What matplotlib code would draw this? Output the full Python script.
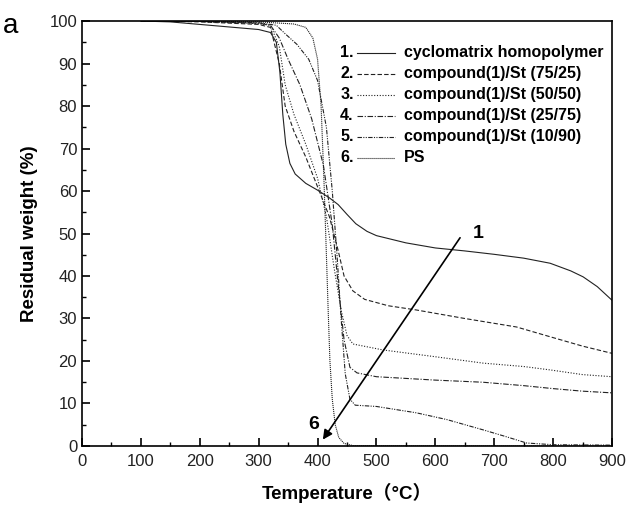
import matplotlib.pyplot as plt
from matplotlib.ticker import MultipleLocator
from matplotlib.lines import Line2D

plt.rcParams['font.family'] = ['Liberation Sans', 'Noto Sans CJK SC', 'DejaVu Sans']

# Temperature (C) / residual weight (%)
t1 = [100, 150, 200, 250, 300, 320, 330, 336, 341, 346, 353, 362, 380, 400, 420, 435,
      450, 465, 484, 500, 550, 600, 650, 700, 750, 795, 830, 851, 875, 900]
w1 = [100, 99.8, 99.2, 98.6, 98.0, 97.3, 95, 88, 78, 71, 66.5, 64, 61.8, 60.2, 58.4, 56.8,
      54.5, 52.3, 50.5, 49.5, 47.8, 46.6, 45.9, 45.1, 44.2, 43.0, 41.2, 39.8, 37.5, 34.3]

t2 = [100, 200, 300, 320, 335, 345, 360, 380, 400, 420, 435, 445, 460, 480, 520, 568,
      650, 738, 800, 850, 900]
w2 = [100, 99.8, 99.2, 98.5, 90, 80, 74, 68, 61, 54, 46, 40, 36.5, 34.5, 33, 32,
      30, 28, 25.5, 23.5, 21.8]

t3 = [100, 200, 300, 320, 335, 345, 360, 380, 400, 415, 428, 440, 450, 460, 511, 600,
      681, 750, 795, 850, 900]
w3 = [100, 99.9, 99.4, 99, 94, 85, 78, 71, 63, 54, 42, 32, 26, 24, 22.6, 21,
      19.5, 18.7, 17.9, 16.8, 16.3]

t4 = [100, 200, 300, 320, 335, 350, 370, 390, 410, 425, 435, 445, 455, 467, 500, 600,
      681, 750, 800, 850, 900]
w4 = [100, 99.9, 99.5, 99, 96, 91, 85, 77, 66, 52, 38, 25, 18.5, 17.2, 16.3, 15.5,
      15, 14.2, 13.5, 12.9, 12.5]

t5 = [100, 200, 300, 330, 345, 365, 385, 400, 415, 425, 433, 440, 447, 455, 464, 500,
      568, 620, 681, 720, 755, 800, 900]
w5 = [100, 99.9, 99.6, 99, 97, 94.5, 91, 86, 75, 60, 45, 30, 17, 11, 9.6, 9.3,
      7.8, 6.2, 3.8, 2.2, 0.7, 0.3, 0.2]

t6 = [100, 300, 360, 380, 392, 400, 406, 411, 415, 418, 421, 425, 430, 436, 445, 460, 900]
w6 = [100, 99.8, 99.3, 98.5, 96, 91, 80, 62, 45, 32, 20, 11, 5, 2, 0.6, 0.1, 0]

labels = ['cyclomatrix homopolymer', 'compound(1)/St (75/25)', 'compound(1)/St (50/50)',
          'compound(1)/St (25/75)', 'compound(1)/St (10/90)', 'PS']

styles = ['-', (0, (4, 2)), (0, (1, 1.5)), (0, (5, 1.5, 1, 1.5)),
          (0, (4, 1.2, 1, 1.2, 1, 1.2)), (0, (1, 0.8))]
series = [(t1, w1), (t2, w2), (t3, w3), (t4, w4), (t5, w5), (t6, w6)]

fig = plt.figure(figsize=(6.28, 5.09), dpi=100)
ax = fig.add_axes([0.1306, 0.1238, 0.8439, 0.8349])

for (t, w), ls in zip(series, styles):
    ax.plot(t, w, color='#222222', linestyle=ls, linewidth=0.8)

ax.set_xlim(0, 900)
ax.set_ylim(0, 100)
ax.xaxis.set_major_locator(MultipleLocator(100))
ax.xaxis.set_minor_locator(MultipleLocator(50))
ax.yaxis.set_major_locator(MultipleLocator(10))
ax.yaxis.set_minor_locator(MultipleLocator(5))
ax.tick_params(which='both', direction='in', top=False, right=False,
               labelsize=12, labelcolor='#222222')
ax.tick_params(axis='x', which='major', pad=6)
ax.tick_params(which='major', length=6, width=1.2)
ax.tick_params(which='minor', length=3, width=1.0)
for sp in ax.spines.values():
    sp.set_linewidth(1.2)

ax.set_xlabel('Temperature（°C）', fontsize=13.5, fontweight='bold', labelpad=10)
ax.set_ylabel('Residual weight (%)', fontsize=13.5, fontweight='bold', labelpad=8)

# legend: number, line sample, name
for i, (lab, ls) in enumerate(zip(labels, styles)):
    y = 0.925 - i * 0.0494
    ax.text(0.487, y, f'{i + 1}.', transform=ax.transAxes, fontsize=11.5,
            fontweight='bold', va='center')
    ax.add_line(Line2D([0.519, 0.590], [y, y], transform=ax.transAxes,
                       color='#222222', linestyle=ls, linewidth=0.8))
    ax.text(0.607, y, lab, transform=ax.transAxes, fontsize=11.5,
            fontweight='bold', va='center')

# trend arrow 1 -> 6
ax.annotate('', xy=(409, 1.5), xytext=(642, 49),
            arrowprops=dict(arrowstyle='-|>', color='black', lw=1.2,
                            mutation_scale=14, shrinkA=0, shrinkB=0))
ax.text(672, 50, '1', fontsize=14, fontweight='bold', va='center', ha='center')
ax.text(393, 5, '6', fontsize=14, fontweight='bold', va='center', ha='center')

fig.text(0.005, 0.975, 'a', fontsize=20, va='top', ha='left')

fig.savefig('out.png', dpi=100)
